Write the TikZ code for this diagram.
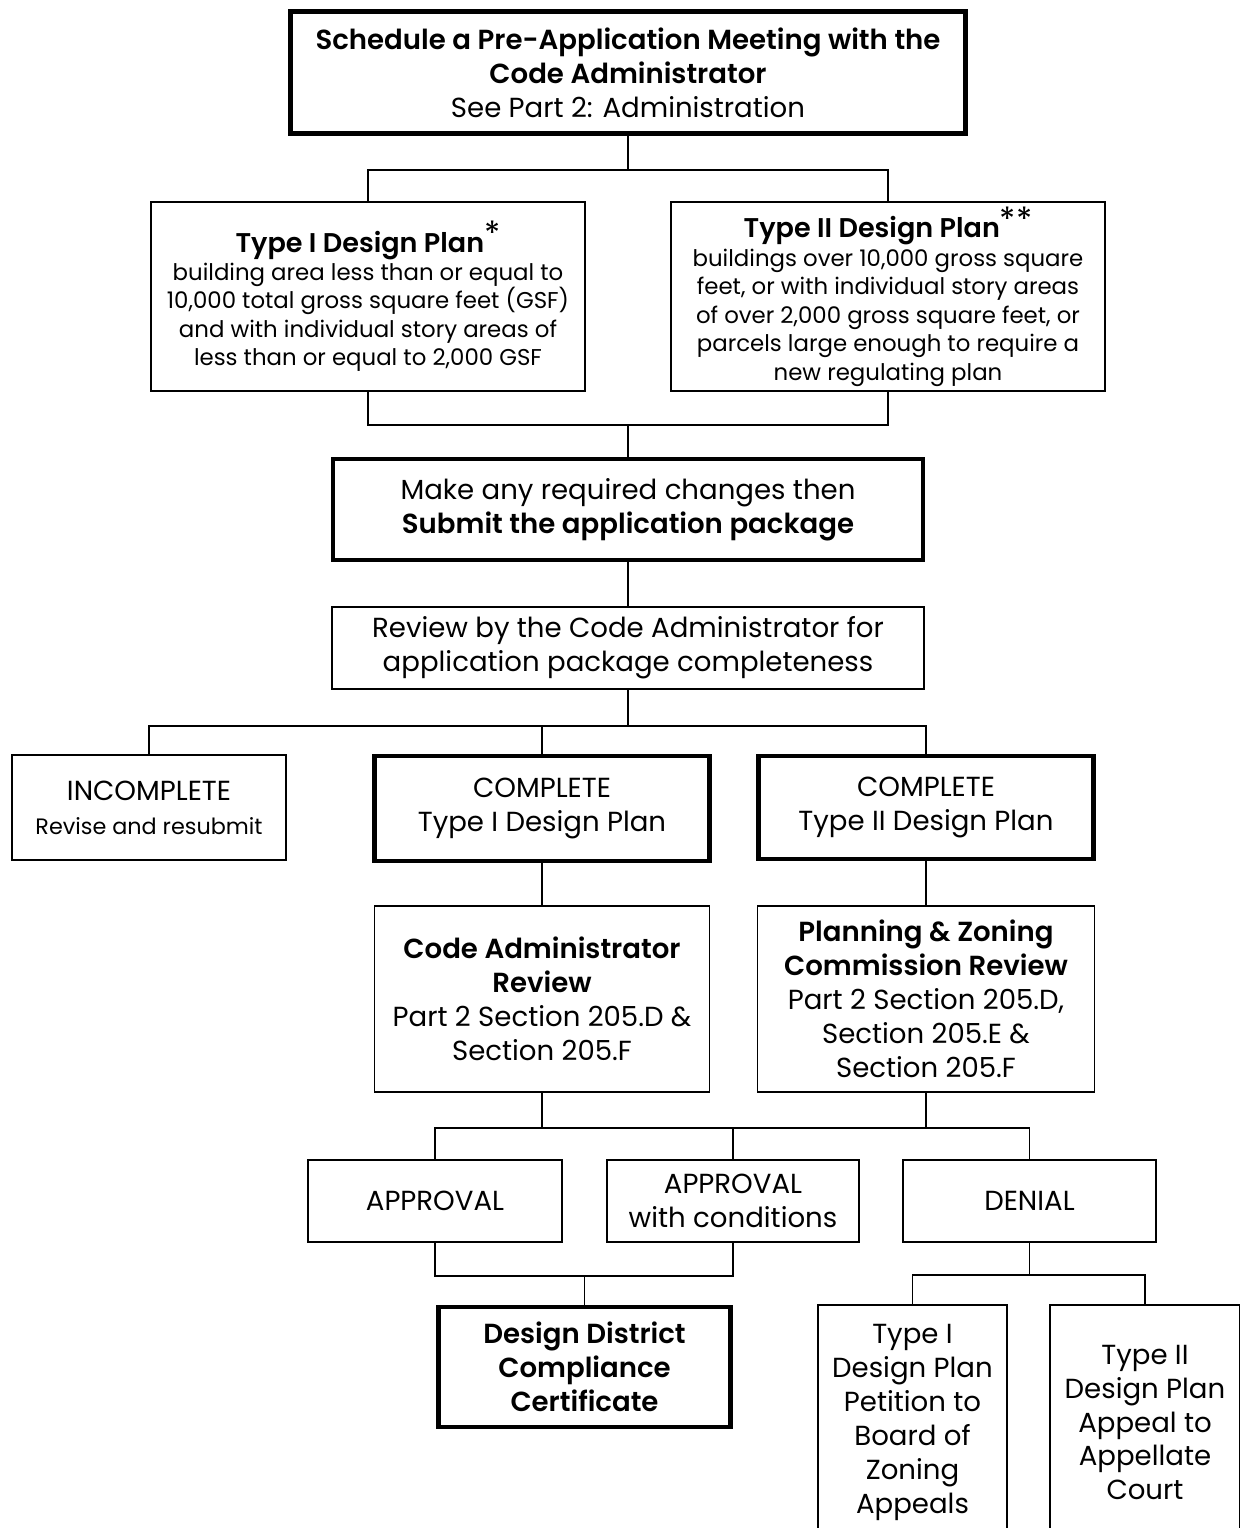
\documentclass[tikz,border=0pt]{standalone}
\usepackage{fontspec}
\setmainfont{Poppins}[BoldFont={Poppins SemiBold}]
\usetikzlibrary{positioning,calc}

\newcommand{\planmark}[1]{{\fontsize{19}{19}\selectfont\raisebox{0.35ex}{#1}}}

\begin{document}
\begin{tikzpicture}[
    box/.style={rectangle, draw, line width=0.8pt, align=center, inner sep=2pt, font=\fontsize{15.7}{19.3}\selectfont},
    heavybox/.style={box, line width=2.8pt},
    smalltext/.style={font=\fontsize{13}{16.2}\selectfont},
    link/.style={line width=0.8pt}
]
\useasboundingbox (0,0) rectangle (24.8,-30.56);

% Pre-application meeting
\node [heavybox, minimum width=13.5cm, minimum height=2.45cm] (meeting) at (12.56,-1.45)
  {\textbf{Schedule a Pre-Application Meeting with the}\\\textbf{Code Administrator}\\See Part 2: Administration};

% Plan types
\node [box, smalltext, minimum width=8.68cm, minimum height=3.78cm] (typeone) at (7.36,-5.93)
  {{\fontsize{15.4}{19.5}\selectfont\textbf{Type I Design Plan}\planmark{*}}\\building area less than or equal to\\10,000 total gross square feet (GSF)\\and with individual story areas of\\less than or equal to 2,000 GSF};
\node [box, smalltext, minimum width=8.68cm, minimum height=3.78cm] (typetwo) at (17.76,-5.93)
  {{\fontsize{15.4}{19}\selectfont\textbf{Type II Design Plan}\planmark{**}}\\buildings over 10,000 gross square\\feet, or with individual story areas\\of over 2,000 gross square feet, or\\parcels large enough to require a\\new regulating plan};

% Submission
\node [heavybox, minimum width=11.8cm, minimum height=2.02cm] (submit) at (12.56,-10.19)
  {Make any required changes then\\\textbf{Submit the application package}};

% Completeness review
\node [box, minimum width=11.84cm, minimum height=1.64cm] (review) at (12.56,-12.96)
  {Review by the Code Administrator for\\application package completeness};

% Review results
\node [box, minimum width=5.48cm, minimum height=2.1cm] (incomplete) at (2.98,-16.15)
  {INCOMPLETE\\{\fontsize{12.7}{17}\selectfont Revise and resubmit}};
\node [heavybox, minimum width=6.7cm, minimum height=2.1cm] (completeone) at (10.84,-16.17)
  {COMPLETE\\Type I Design Plan};
\node [heavybox, minimum width=6.7cm, minimum height=2.06cm] (completetwo) at (18.52,-16.15)
  {COMPLETE\\Type II Design Plan};

% Reviewing bodies
\node [box, minimum width=6.7cm, minimum height=3.72cm] (adminreview) at (10.84,-19.98)
  {\textbf{Code Administrator}\\\textbf{Review}\\Part 2 Section 205.D \&\\Section 205.F};
\node [box, minimum width=6.74cm, minimum height=3.72cm] (pzreview) at (18.52,-19.98)
  {\textbf{Planning \& Zoning}\\\textbf{Commission Review}\\Part 2 Section 205.D,\\Section 205.E \&\\Section 205.F};

% Decisions
\node [box, minimum width=5.08cm, minimum height=1.64cm] (approval) at (8.70,-24.02) {APPROVAL};
\node [box, minimum width=5.04cm, minimum height=1.64cm] (approvalcond) at (14.66,-24.02)
  {APPROVAL\\with conditions};
\node [box, minimum width=5.06cm, minimum height=1.64cm] (denial) at (20.59,-24.02) {DENIAL};

% Certificate
\node [heavybox, minimum width=5.85cm, minimum height=2.4cm] (certificate) at (11.69,-27.34)
  {\textbf{Design District}\\\textbf{Compliance}\\\textbf{Certificate}};

% Appeals
\node [box, minimum width=3.78cm, minimum height=4.7cm] (petition) at (18.25,-28.45)
  {Type I\\Design Plan\\Petition to\\Board of\\Zoning\\Appeals};
\node [box, minimum width=3.8cm, minimum height=4.7cm] (appeal) at (22.90,-28.45)
  {Type II\\Design Plan\\Appeal to\\Appellate\\Court};

% Branch points
\coordinate (splitplan) at (12.56,-3.40);
\coordinate (joinplan) at (12.56,-8.50);
\coordinate (splitreview) at (12.56,-14.52);
\coordinate (splitdecision) at (14.66,-22.56);
\coordinate (joinapproval) at (11.69,-25.52);
\coordinate (splitdenial) at (20.59,-25.50);

% Connections
\draw [link] (meeting.south) -- (splitplan);
\draw [link] (typeone.north) |- (splitplan) -| (typetwo.north);
\draw [link] (typeone.south) |- (joinplan) -| (typetwo.south);
\draw [link] (joinplan) -- (submit.north);
\draw [link] (submit.south) -- (review.north);
\draw [link] (review.south) -- (splitreview);
\draw [link] (incomplete.north) |- (splitreview) -| (completetwo.north);
\draw [link] (completeone.north) -- (completeone.north |- splitreview);
\draw [link] (completeone.south) -- (adminreview.north);
\draw [link] (completetwo.south) -- (pzreview.north);
\draw [link] (adminreview.south) -- (adminreview.south |- splitdecision);
\draw [link] (pzreview.south) -- (pzreview.south |- splitdecision);
\draw [link] (approval.north) |- (splitdecision) -| (denial.north);
\draw [link] (approvalcond.north) -- (splitdecision);
\draw [link] (approval.south) |- (joinapproval) -| (approvalcond.south);
\draw [link] (joinapproval) -- (certificate.north);
\draw [link] (denial.south) -- (splitdenial);
\draw [link] (petition.north) |- (splitdenial) -| (appeal.north);

\end{tikzpicture}
\end{document}
